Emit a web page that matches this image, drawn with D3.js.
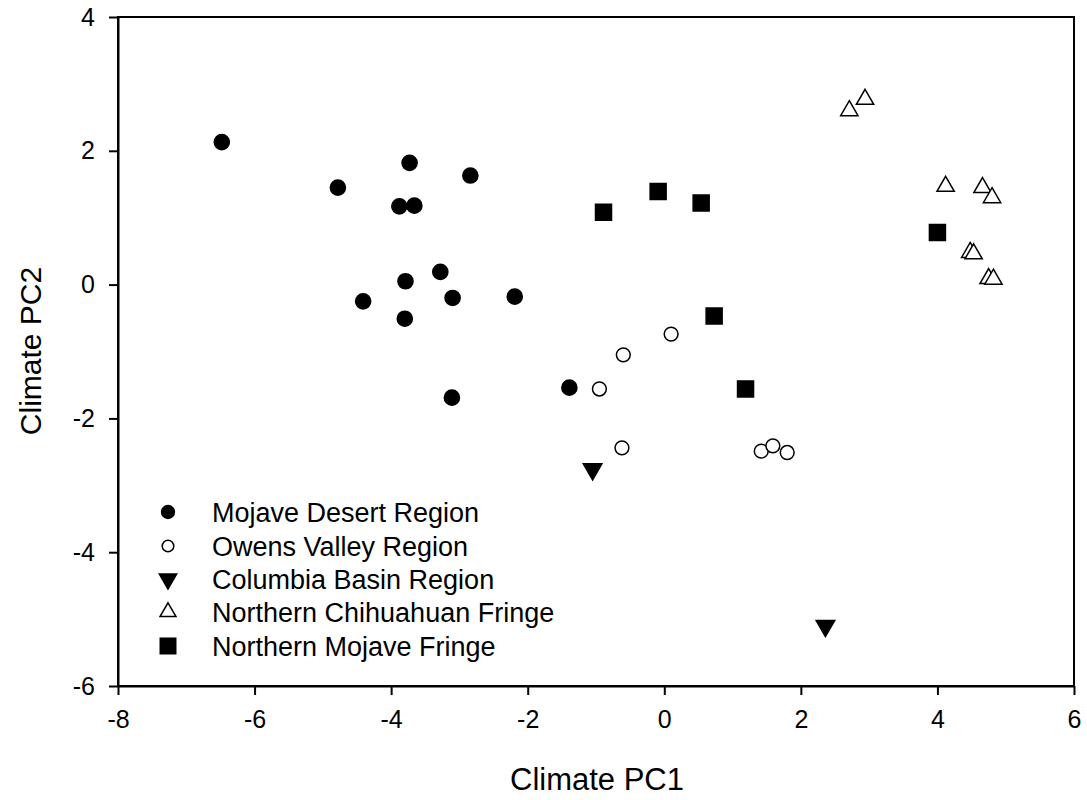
<!DOCTYPE html>
<html>
<head>
<meta charset="utf-8">
<script src="https://cdn.jsdelivr.net/npm/d3@7"></script>
<style>
  html, body { margin: 0; padding: 0; background: #fff; }
  svg { display: block; }
  text { font-family: Arial, "Liberation Sans", sans-serif; fill: #000; }
</style>
</head>
<body>
<svg id="chart" width="1087" height="800"></svg>
<script>
// ---- Data ----
const seriesNames = ["Mojave Desert Region", "Owens Valley Region", "Columbia Basin Region", "Northern Chihuahuan Fringe", "Northern Mojave Fringe"];

const mojaveDesert = [
  [-6.48, 2.13], [-4.78, 1.45], [-3.73, 1.82], [-2.84, 1.63], [-3.88, 1.17],
  [-3.66, 1.18], [-3.28, 0.19], [-3.79, 0.05], [-4.41, -0.25], [-3.10, -0.20],
  [-2.19, -0.18], [-3.80, -0.51], [-3.11, -1.69], [-1.39, -1.54]
];
const owensValley = [
  [0.10, -0.74], [-0.60, -1.05], [-0.95, -1.56], [-0.62, -2.44],
  [1.42, -2.49], [1.59, -2.41], [1.80, -2.51]
];
const columbiaBasin = [
  [-1.05, -2.76], [2.36, -5.10]
];
const chihuahuanFringe = [
  [2.71, 2.60], [2.94, 2.77], [4.12, 1.47], [4.66, 1.45], [4.80, 1.30],
  [4.48, 0.48], [4.53, 0.46], [4.75, 0.09], [4.82, 0.08]
];
const mojaveFringe = [
  [-0.89, 1.08], [-0.09, 1.39], [0.54, 1.22], [0.73, -0.47], [1.19, -1.56], [4.00, 0.78]
];

const xTicks = [-8, -6, -4, -2, 0, 2, 4, 6];
const yTicks = [-6, -4, -2, 0, 2, 4];
const xLabel = "Climate PC1";
const yLabel = "Climate PC2";

// ---- Layout ----
const svg = d3.select("#chart");
const pLeft = 118, pRight = 1074, pTop = 17, pBottom = 686;

const x = d3.scaleLinear().domain([-8, 6]).range([pLeft, pRight]);
const y = d3.scaleLinear().domain([-6, 4]).range([pBottom, pTop]);

// frame
svg.append("rect")
  .attr("x", pLeft).attr("y", pTop)
  .attr("width", pRight - pLeft).attr("height", pBottom - pTop)
  .attr("fill", "none").attr("stroke", "#000").attr("stroke-width", 2);

const fmt = d => String(d);

// axes
const xAxis = d3.axisBottom(x).tickValues(xTicks).tickSize(9).tickSizeOuter(0).tickPadding(12)
  .tickFormat(fmt);
const gx = svg.append("g").attr("transform", `translate(0,${pBottom})`).call(xAxis);
gx.select(".domain").attr("stroke-width", 2);
gx.selectAll(".tick line").attr("stroke-width", 2);
gx.selectAll(".tick text").attr("font-size", 25).attr("font-family", "Arial, 'Liberation Sans', sans-serif").attr("dy", "0.85em");

const yAxis = d3.axisLeft(y).tickValues(yTicks).tickSize(9).tickSizeOuter(0).tickPadding(14)
  .tickFormat(fmt);
const gy = svg.append("g").attr("transform", `translate(${pLeft},0)`).call(yAxis);
gy.select(".domain").attr("stroke-width", 2);
gy.selectAll(".tick line").attr("stroke-width", 2);
gy.selectAll(".tick text").attr("font-size", 25).attr("font-family", "Arial, 'Liberation Sans', sans-serif");

// axis titles
svg.append("text").attr("x", 597).attr("y", 790)
  .attr("text-anchor", "middle").attr("font-size", 31).text(xLabel);
svg.append("text")
  .attr("transform", `translate(41,351) rotate(-90)`)
  .attr("text-anchor", "middle").attr("font-size", 30).text(yLabel);

// ---- Symbols ----
const styles = [
  { type: d3.symbolCircle, size: 180, fill: "#000", rot: 0, lsize: 130 },
  { type: d3.symbolCircle, size: 150, fill: "#fff", rot: 0, lsize: 105 },
  { type: d3.symbolTriangle, size: 150, fill: "#000", rot: 180, lsize: 130 },
  { type: d3.symbolTriangle, size: 130, fill: "#fff", rot: 0, lsize: 110 },
  { type: d3.symbolSquare, size: 256, fill: "#000", rot: 0, lsize: 240 }
];
const allSeries = [mojaveDesert, owensValley, columbiaBasin, chihuahuanFringe, mojaveFringe];

allSeries.forEach((data, i) => {
  const st = styles[i];
  svg.append("g").selectAll("path").data(data).join("path")
    .attr("d", d3.symbol().type(st.type).size(st.size))
    .attr("transform", d => `translate(${x(d[0])},${y(d[1])}) rotate(${st.rot})`)
    .attr("fill", st.fill).attr("stroke", "#000").attr("stroke-width", 1.5);
});

// ---- Legend ----
const legendY = [512, 546, 579, 612, 646];
const lg = svg.append("g");
seriesNames.forEach((name, i) => {
  const st = styles[i];
  lg.append("path")
    .attr("d", d3.symbol().type(st.type).size(st.lsize))
    .attr("transform", `translate(168,${legendY[i]}) rotate(${st.rot})`)
    .attr("fill", st.fill).attr("stroke", "#000").attr("stroke-width", 1.5);
  lg.append("text").attr("x", 212).attr("y", legendY[i]).attr("dy", "0.36em")
    .attr("font-size", 27).text(name);
});
</script>
</body>
</html>
